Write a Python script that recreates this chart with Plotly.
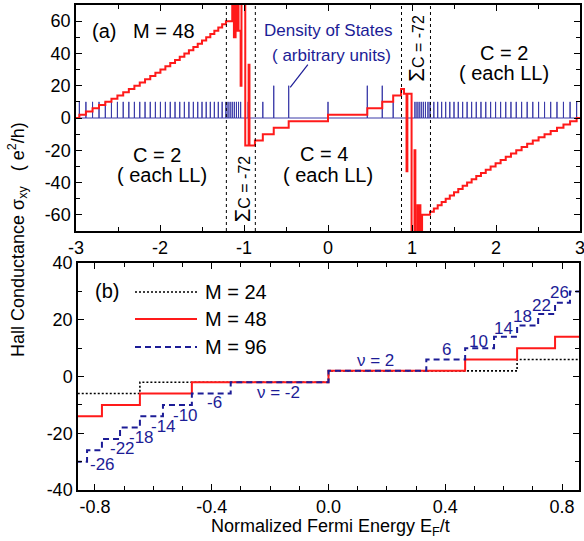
import plotly.graph_objects as go

# ---------------- Panel (a): M = 48 ----------------
# Landau-level energies in the outer regions (C = 2 each)
LL_left = [-2.96, -2.882, -2.803, -2.726, -2.651, -2.578, -2.507, -2.438, -2.371, -2.305,
           -2.241, -2.178, -2.116, -2.055, -1.995, -1.936, -1.878, -1.821, -1.765, -1.710,
           -1.656, -1.603, -1.551, -1.500, -1.450, -1.401, -1.353, -1.306, -1.260, -1.215]
sigma_left = [2, 4, 6, 8, 10, 12, 14, 16, 18, 20, 22, 24, 26, 28, 30,
              32, 34, 36, 38, 40, 42, 44, 46, 48, 50, 52, 54, 56, 58, 60]
LL_right = [1.215, 1.260, 1.306, 1.353, 1.401, 1.450, 1.500, 1.551, 1.603, 1.656,
            1.710, 1.765, 1.821, 1.878, 1.936, 1.995, 2.055, 2.116, 2.178, 2.241,
            2.305, 2.371, 2.438, 2.507, 2.578, 2.651, 2.726, 2.803, 2.882, 2.96]
sigma_right = [-58, -56, -54, -52, -50, -48, -46, -44, -42, -40, -38, -36, -34, -32, -30,
               -28, -26, -24, -22, -20, -18, -16, -14, -12, -10, -8, -6, -4, -2, 0]
# van Hove windows (sum C = -72)
chaos_left_x = [-1.14, -1.12, -1.10, -1.09, -1.075, -1.065, -1.04, -1.03, -0.985, -0.945, -0.935]
chaos_left_s = [90, 50, 90, 54, 90, 54, 20, 90, -17, 33, -17]
# middle region (C = 4 each)
mid_x = [-0.87, -0.776, -0.646, -0.468, 0.0, 0.468, 0.646, 0.776, 0.87]
mid_s = [-14, -10, -6, -2, 2, 6, 10, 14, 18]
chaos_right_x = [0.905, 0.935, 0.945, 0.995, 1.03, 1.04, 1.065, 1.075, 1.09, 1.10, 1.12]
chaos_right_s = [15, -33, 15, -90, -20, -90, -54, -90, -54, -90, -60]

# Density of states spikes (arbitrary units)
dos_chaos_left = [-1.19, -1.165, -1.14, -1.115, -1.09, -1.065, -1.04, -0.95]
dos_mid_x = [-0.776, -0.646, -0.468, 0.0, 0.468, 0.646, 0.776]
dos_mid_h = [10, 20, 20, 10, 20, 20, 10]
dos_chaos_right = [1.035, 1.06, 1.085, 1.11, 1.135, 1.16, 1.19]
DOS_H = 10

vlines_a = [-1.21, -0.865, 0.875, 1.22]

# ---------------- Panel (b) ----------------
edges_24 = [-0.646, 0.0, 0.646]
levels_24 = [-6, -2, 2, 6]
edges_48 = [-0.776, -0.646, -0.468, 0.0, 0.468, 0.646, 0.776]
levels_48 = [-14, -10, -6, -2, 2, 6, 10, 14]
edges_96 = [-0.827, -0.776, -0.714, -0.646, -0.567, -0.468, -0.335, 0.0,
            0.335, 0.468, 0.567, 0.646, 0.718, 0.776, 0.827]
levels_96 = [-30, -26, -22, -18, -14, -10, -6, -2, 2, 6, 10, 14, 18, 22, 26, 30]

nu_text = ["ν = 2", "ν = -2", "6", "10", "14", "18", "22", "26",
           "-6", "-10", "-14", "-18", "-22", "-26"]
nu_x = [0.16, -0.17, 0.405, 0.515, 0.60, 0.665, 0.728, 0.79,
        -0.39, -0.49, -0.565, -0.64, -0.705, -0.775]
nu_y = [5.5, -5.6, 9.5, 12.5, 17, 21, 25, 29.5,
        -9.3, -13.6, -17.6, -21.5, -25.4, -31]

xt_a = [-3, -2, -1, 0, 1, 2, 3]
yt_a = [-60, -40, -20, 0, 20, 40, 60]
xt_b = [-0.8, -0.4, 0.0, 0.4, 0.8]
yt_b = [-40, -20, 0, 20, 40]

RED = "#ff1a1a"
NAVY = "#1c1c96"
DOSC = "#3a3aa8"
FONT = "Arial, Liberation Sans, sans-serif"

fig = go.Figure()

# DOS trace
spikes = sorted([(x, DOS_H) for x in LL_left + dos_chaos_left + dos_chaos_right + LL_right]
                + list(zip(dos_mid_x, dos_mid_h)))
dx, dy = [-3.0], [0]
for x, h in spikes:
    dx += [x, x, x]
    dy += [0, h, 0]
dx.append(3.0)
dy.append(0)
fig.add_trace(go.Scatter(x=dx, y=dy, mode="lines", line=dict(color=DOSC, width=1),
                         showlegend=False, xaxis="x", yaxis="y", hoverinfo="skip"))

# Hall conductance M=48
ax = [-3.0] + LL_left + chaos_left_x + mid_x + chaos_right_x + LL_right + [3.0]
ay = [0] + sigma_left + chaos_left_s + mid_s + chaos_right_s + sigma_right + [0]
fig.add_trace(go.Scatter(x=ax, y=ay, mode="lines", line=dict(color=RED, width=2, shape="hv"),
                         showlegend=False, xaxis="x", yaxis="y"))


def stair(edges, levels):
    return [-0.9] + edges + [0.9], levels + [levels[-1]]


DOT = "2px,2px"
DASH = "6px,4px"
for edges, levels, col, dash, w in [(edges_24, levels_24, "black", DOT, 1.6),
                                     (edges_48, levels_48, RED, "solid", 2),
                                     (edges_96, levels_96, NAVY, DASH, 2)]:
    sx, sy = stair(edges, levels)
    fig.add_trace(go.Scatter(x=sx, y=sy, mode="lines",
                             line=dict(color=col, dash=dash, width=w, shape="hv"),
                             showlegend=False, xaxis="x2", yaxis="y2"))

W, H = 584, 541
ML, MR, MT, MB = 76, 4, 5, 51
PW, PH = W - ML - MR, H - MT - MB


def px(x):
    return (x - ML) / PW


def py(y):
    return (H - MB - y) / PH


def lab(v, fmt):
    return fmt.format(v).replace("\u2212", "-")


axis_common = dict(showline=True, linecolor="black", linewidth=1.5, mirror="ticks",
                   ticks="inside", ticklen=6, tickwidth=1.2, tickcolor="black",
                   showgrid=False, zeroline=False, automargin=False,
                   ticklabeloverflow="allow",
                   tickfont=dict(size=18, color="black", family=FONT))

fig.update_layout(
    width=W, height=H, margin=dict(l=ML, r=MR, t=MT, b=MB, autoexpand=False),
    paper_bgcolor="white", plot_bgcolor="white",
    font=dict(family=FONT, color="black"),
    xaxis=dict(domain=[px(76), px(580)], range=[-3, 3], anchor="y",
               tickvals=xt_a, ticktext=[lab(v, "{:d}") for v in xt_a],
               minor=dict(dtick=0.5, tick0=0, ticks="inside", ticklen=4, tickcolor="black"),
               **axis_common),
    yaxis=dict(domain=[py(231), py(5)], range=[-70, 70], anchor="x",
               tickvals=yt_a, ticktext=[lab(v, "{:d}") for v in yt_a],
               minor=dict(dtick=10, tick0=0, ticks="inside", ticklen=4, tickcolor="black"),
               **axis_common),
    xaxis2=dict(domain=[px(78), px(579)], range=[-0.858, 0.858], anchor="y2",
                tickvals=xt_b, ticktext=[lab(v, "{:.1f}") for v in xt_b],
                minor=dict(dtick=0.1, tick0=0, ticks="inside", ticklen=4, tickcolor="black"),
                **axis_common),
    yaxis2=dict(domain=[py(490), py(263)], range=[-40, 40], anchor="x2",
                tickvals=yt_b, ticktext=[lab(v, "{:d}") for v in yt_b],
                minor=dict(dtick=10, tick0=0, ticks="inside", ticklen=4, tickcolor="black"),
                **axis_common),
)

shapes = []
for v in vlines_a:
    shapes.append(dict(type="line", xref="x", yref="y domain", x0=v, x1=v, y0=0, y1=1,
                       line=dict(color="black", width=1, dash="dot")))
# pointer from DOS text to spike
shapes.append(dict(type="line", xref="x", yref="y", x0=-0.45, y0=19, x1=-0.24, y1=33,
                   line=dict(color=NAVY, width=1.2)))
# manual legend samples for panel (b)
leg_rows = [(292, "black", DOT, 1.6, "M = 24"), (319, RED, "solid", 2, "M = 48"),
            (347, NAVY, DASH, 2, "M = 96")]
for yy, col, dash, w, lab_ in leg_rows:
    shapes.append(dict(type="line", xref="paper", yref="paper", x0=px(135), x1=px(197),
                       y0=py(yy), y1=py(yy), line=dict(color=col, width=w, dash=dash)))
fig.update_layout(shapes=shapes)

ann = []


def A(text, x, y, size=20, color="black", xref="x", yref="y", angle=0, xanchor="center"):
    ann.append(dict(text=text, x=x, y=y, xref=xref, yref=yref, showarrow=False,
                    font=dict(size=size, color=color, family=FONT), textangle=angle,
                    xanchor=xanchor, yanchor="middle"))


A("(a)", -2.67, 54)
A("M = 48", -1.95, 54)
A("Density of States", 0.01, 54, size=17, color=NAVY)
A("( arbitrary units)", 0.04, 39, size=17, color=NAVY)
A("C = 2", -2.03, -23)
A("( each LL)", -1.98, -35)
A("C = 4", -0.05, -22)
A("( each LL)", 0.0, -35)
A("C = 2", 2.1, 40)
A("( each LL)", 2.1, 28)
A("<span style='font-size:22px'>Σ</span>C = -72", -1.02, -44, size=16, angle=-90)
A("<span style='font-size:22px'>Σ</span>C = -72", 1.06, 43, size=16, angle=-90)

# panel (b)
A("(b)", px(107), py(291), xref="paper", yref="paper")
for yy, col, dash, w, lab_ in leg_rows:
    A(lab_, px(203), py(yy), xref="paper", yref="paper", xanchor="left")
for t, x, y in zip(nu_text, nu_x, nu_y):
    ann.append(dict(text=t, x=x, y=y, xref="x2", yref="y2", showarrow=False,
                    font=dict(size=17, color=NAVY, family=FONT)))

# axis titles
A("Hall Conductance σ<sub>xy</sub>   ( e<sup>2</sup>/h)", px(17), py(240), size=18,
  xref="paper", yref="paper", angle=-90)
A("Normalized Fermi Energy E<sub>F</sub>/t", px(330), py(527), size=18,
  xref="paper", yref="paper")

fig.update_layout(annotations=ann)

fig.write_html("out.html", config={"displayModeBar": False},
               post_script="document.body.style.margin='0px';document.body.style.overflow='hidden';")
